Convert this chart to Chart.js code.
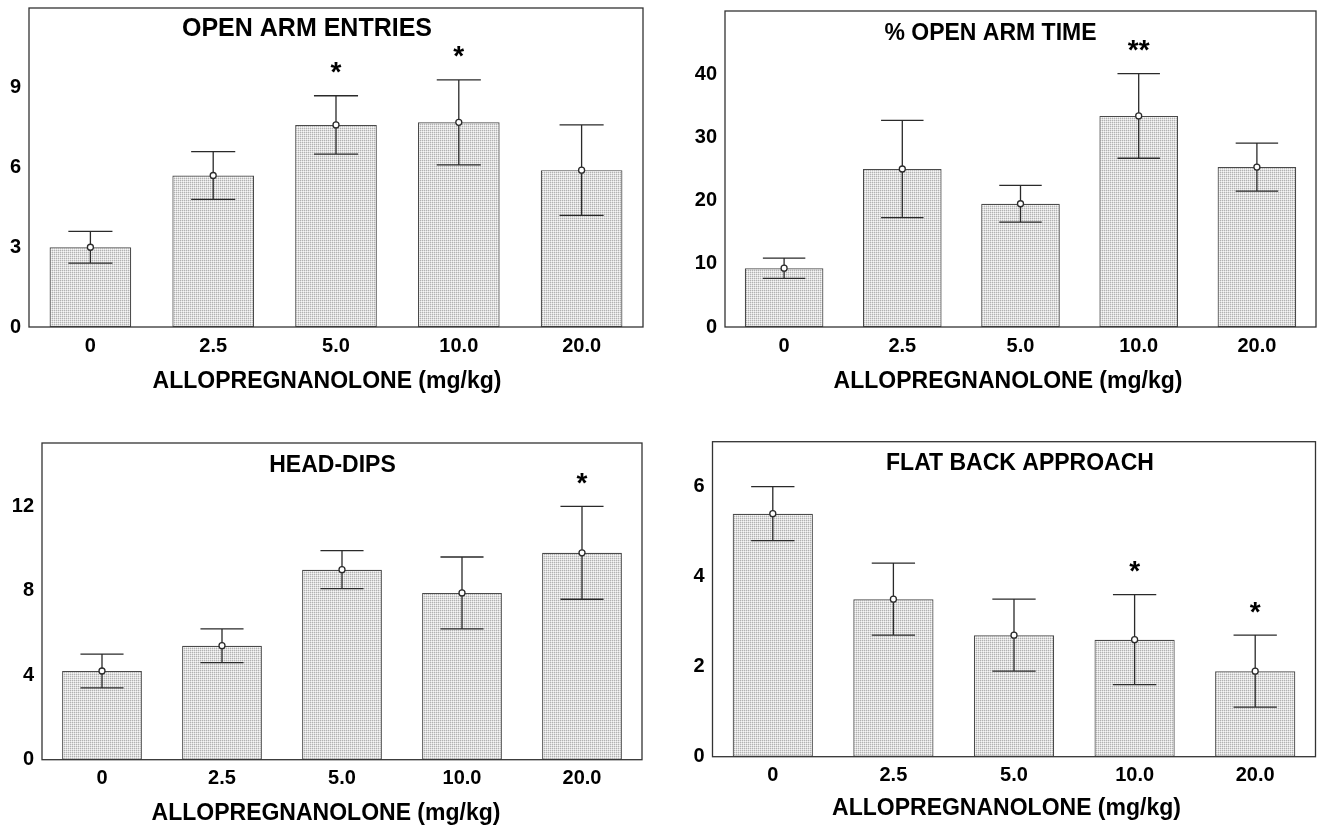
<!DOCTYPE html>
<html>
<head>
<meta charset="utf-8">
<script src="https://cdn.jsdelivr.net/npm/chart.js@4.4.1/dist/chart.umd.min.js"></script>
<style>
html,body{margin:0;padding:0;background:#fff;width:1325px;height:826px;overflow:hidden;position:relative}
canvas{position:absolute;display:block}
</style>
</head>
<body>
<canvas id="c1"></canvas>
<canvas id="c2"></canvas>
<canvas id="c3"></canvas>
<canvas id="c4"></canvas>
<script>
// ---------- DATA ----------
const doses = ['0', '2.5', '5.0', '10.0', '20.0'];
const xAxisTitle = 'ALLOPREGNANOLONE (mg/kg)';

const openArmEntriesMean = [3.0, 5.7, 7.6, 7.7, 5.9];
const openArmEntriesSem  = [0.6, 0.9, 1.1, 1.6, 1.7];
const openArmEntriesSig  = ['', '', '*', '*', ''];

const openArmTimeMean = [9.3, 25.0, 19.5, 33.4, 25.3];
const openArmTimeSem  = [1.6, 7.7, 2.9, 6.7, 3.8];
const openArmTimeSig  = ['', '', '', '**', ''];

const headDipsMean = [4.2, 5.4, 9.0, 7.9, 9.8];
const headDipsSem  = [0.8, 0.8, 0.9, 1.7, 2.2];
const headDipsSig  = ['', '', '', '', '*'];

const flatBackMean = [5.4, 3.5, 2.7, 2.6, 1.9];
const flatBackSem  = [0.6, 0.8, 0.8, 1.0, 0.8];
const flatBackSig  = ['', '', '', '*', '*'];

const yMaxes  = [12, 50, 15, 7];
const ySteps  = [3, 10, 4, 2];

// ---------- LAYOUT ----------
const FONT = "'Liberation Sans', Arial, Helvetica, sans-serif";
const panels = [
  { id: 'c1', title: 'OPEN ARM ENTRIES', mean: openArmEntriesMean, sem: openArmEntriesSem, sig: openArmEntriesSig,
    yMax: yMaxes[0], yStep: ySteps[0],
    cv: { left: 0, top: -30, w: 662, h: 440 }, area: { left: 29, top: 8, right: 643, bottom: 327 },
    titleX: 307, titleY: 27, titleSize: 25, axX: 327, axY: 381.7 },
  { id: 'c2', title: '% OPEN ARM TIME', mean: openArmTimeMean, sem: openArmTimeSem, sig: openArmTimeSig,
    yMax: yMaxes[1], yStep: ySteps[1],
    cv: { left: 662, top: -30, w: 663, h: 440 }, area: { left: 725, top: 11, right: 1316, bottom: 327 },
    titleX: 990.5, titleY: 31, titleSize: 23, axX: 1008, axY: 381.7 },
  { id: 'c3', title: 'HEAD-DIPS', mean: headDipsMean, sem: headDipsSem, sig: headDipsSig,
    yMax: yMaxes[2], yStep: ySteps[2],
    cv: { left: 0, top: 410, w: 662, h: 416 }, area: { left: 42, top: 443, right: 642, bottom: 759.7 },
    titleX: 332.5, titleY: 463, titleSize: 23, axX: 326, axY: 813 },
  { id: 'c4', title: 'FLAT BACK APPROACH', mean: flatBackMean, sem: flatBackSem, sig: flatBackSig,
    yMax: yMaxes[3], yStep: ySteps[3],
    cv: { left: 662, top: 410, w: 663, h: 416 }, area: { left: 712.5, top: 441.7, right: 1315.5, bottom: 756.7 },
    titleX: 1020, titleY: 461.7, titleSize: 23, axX: 1006.5, axY: 808 }
];

// stippled bar fill
function makePattern() {
  const p = document.createElement('canvas');
  p.width = 2; p.height = 2;
  const g = p.getContext('2d');
  g.fillStyle = '#f6f6f6'; g.fillRect(0, 0, 2, 2);
  g.fillStyle = '#dedede'; g.fillRect(1, 0, 1, 1); g.fillRect(0, 1, 1, 1);
  g.fillStyle = '#b2b2b2'; g.fillRect(0, 0, 1, 1);
  return g.createPattern(p, 'repeat');
}

// draw text so that the visible glyph centre lands at (x, y)
function centeredText(ctx, text, x, y, size, sx) {
  ctx.save();
  ctx.font = 'bold ' + size + 'px ' + FONT;
  ctx.textAlign = 'center';
  ctx.textBaseline = 'alphabetic';
  const m = ctx.measureText(text);
  const base = y + (m.actualBoundingBoxAscent - m.actualBoundingBoxDescent) / 2;
  ctx.translate(x, base);
  ctx.scale(sx || 1, 1);
  ctx.fillStyle = '#000';
  ctx.fillText(text, 0, 0);
  ctx.restore();
}

const decorPlugin = {
  id: 'panelDecor',
  afterDatasetsDraw(chart, args, o) {
    const ctx = chart.ctx;
    const xs = chart.scales.x, ys = chart.scales.y;
    const meta = chart.getDatasetMeta(0);
    ctx.save();
    // error bars + mean markers
    o.mean.forEach((m, i) => {
      const bar = meta.data[i];
      const x = xs.getPixelForValue(i);
      const yT = ys.getPixelForValue(m + o.sem[i]);
      const yB = ys.getPixelForValue(m - o.sem[i]);
      const yM = ys.getPixelForValue(m);
      const half = bar.width * 0.27;
      ctx.strokeStyle = '#2a2a2a';
      ctx.lineWidth = 1.3;
      ctx.beginPath();
      ctx.moveTo(x, yT); ctx.lineTo(x, yB);
      ctx.moveTo(x - half, yT); ctx.lineTo(x + half, yT);
      ctx.moveTo(x - half, yB); ctx.lineTo(x + half, yB);
      ctx.stroke();
      ctx.beginPath();
      ctx.arc(x, yM, 3, 0, Math.PI * 2);
      ctx.fillStyle = '#fff';
      ctx.fill();
      ctx.lineWidth = 1.3;
      ctx.stroke();
      if (o.sig[i]) centeredText(ctx, o.sig[i], x, yT - 28, 28);
    });
    // plot frame
    const a = chart.chartArea;
    ctx.strokeStyle = '#333';
    ctx.lineWidth = 1.3;
    ctx.strokeRect(a.left, a.top, a.right - a.left, a.bottom - a.top);
    ctx.restore();
    // titles
    centeredText(ctx, o.title, o.titleX, o.titleY, o.titleSize);
    centeredText(ctx, o.axisTitle, o.axX, o.axY, 23);
  }
};

panels.forEach(p => {
  const cv = document.getElementById(p.id);
  cv.width = p.cv.w; cv.height = p.cv.h;
  cv.style.left = p.cv.left + 'px'; cv.style.top = p.cv.top + 'px';
  const A = {
    left: p.area.left - p.cv.left, right: p.area.right - p.cv.left,
    top: p.area.top - p.cv.top, bottom: p.area.bottom - p.cv.top
  };
  const ctx = cv.getContext('2d');
  new Chart(ctx, {
    type: 'bar',
    data: {
      labels: doses,
      datasets: [{
        data: p.mean,
        backgroundColor: makePattern(),
        borderColor: '#4a4a4a',
        borderWidth: 1.2,
        borderSkipped: false,
        barPercentage: 0.665,
        categoryPercentage: 1.0
      }]
    },
    options: {
      responsive: false,
      animation: false,
      devicePixelRatio: 1,
      layout: { padding: { left: 0, top: A.top, right: p.cv.w - A.right, bottom: 0 } },
      plugins: {
        legend: { display: false },
        tooltip: { enabled: false },
        title: { display: false },
        panelDecor: {
          mean: p.mean, sem: p.sem, sig: p.sig,
          title: p.title, titleX: p.titleX - p.cv.left, titleY: p.titleY - p.cv.top, titleSize: p.titleSize,
          axisTitle: xAxisTitle, axX: p.axX - p.cv.left, axY: p.axY - p.cv.top
        }
      },
      scales: {
        x: {
          grid: { display: false, drawTicks: false },
          border: { display: false },
          ticks: { color: '#000', font: { family: FONT, size: 20, weight: 'bold' }, padding: 7, maxRotation: 0 },
          afterFit: s => { s.height = p.cv.h - A.bottom; }
        },
        y: {
          min: 0, max: p.yMax,
          grid: { display: false, drawTicks: false },
          border: { display: false },
          ticks: {
            stepSize: p.yStep,
            color: '#000',
            font: { family: FONT, size: 20, weight: 'bold' },
            padding: 8,
            callback: v => (v % p.yStep === 0 && v < p.yMax) ? String(v) : ''
          },
          afterFit: s => { s.width = A.left; }
        }
      }
    },
    plugins: [decorPlugin]
  });
});
</script>
</body>
</html>
